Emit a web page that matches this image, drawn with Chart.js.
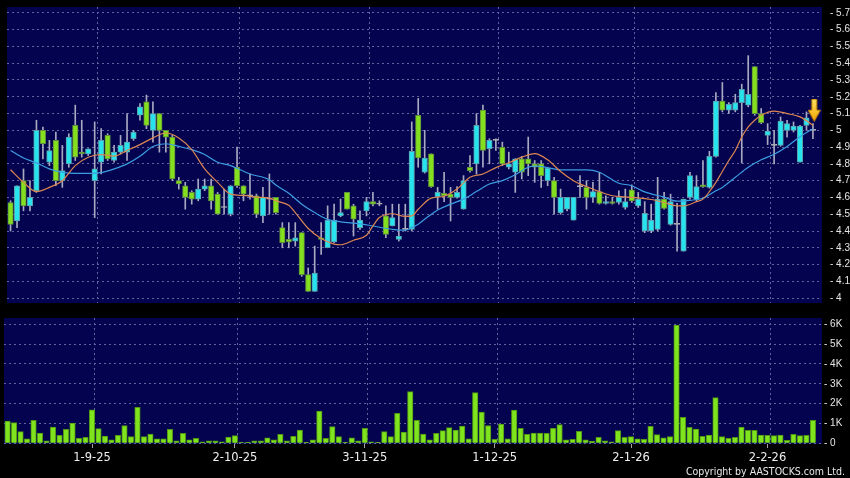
<!DOCTYPE html>
<html>
<head>
<meta charset="utf-8">
<script src="https://cdn.jsdelivr.net/npm/chart.js@4.4.0/dist/chart.umd.min.js"></script>
<style>
  html, body { margin: 0; padding: 0; background: #000; }
  #wrap { position: relative; width: 850px; height: 478px; background: #000; overflow: hidden; }
  #c1 { position: absolute; left: 0; top: 0; }
  #c2 { position: absolute; left: 0; top: 310px; }
  #copy { position: absolute; right: 5px; top: 465px; font: 10.5px 'DejaVu Sans Condensed', 'DejaVu Sans', sans-serif; line-height: 12px; color: #e8e8e8; white-space: nowrap; }
</style>
</head>
<body>
<div id="wrap">
  <canvas id="c1" width="850" height="310"></canvas>
  <canvas id="c2" width="850" height="168"></canvas>
  <div id="copy">Copyright by AASTOCKS.com Ltd.</div>
</div>
<script>
// 日线数据 (index 0 = 13-8-25)
var opens = [4.57,4.46,4.70,4.55,4.64,5.00,4.81,4.94,4.70,4.80,
  5.03,4.87,4.86,4.70,4.81,4.97,4.82,4.87,4.87,4.95,
  5.09,5.17,5.00,5.10,5.00,4.96,4.70,4.67,4.63,4.59,
  4.65,4.67,4.62,4.54,4.50,4.78,4.67,4.61,4.61,4.49,
  4.59,4.60,4.42,4.35,4.34,4.39,4.14,4.04,4.36,4.30,
  4.335,4.49,4.63,4.55,4.42,4.52,4.575,4.56,4.49,4.43,
  4.35,4.41,4.41,5.09,4.75,4.86,4.605,4.625,4.62,4.60,
  4.53,4.78,4.80,5.12,4.89,4.94,4.90,4.78,4.75,4.83,
  4.83,4.80,4.80,4.70,4.70,4.51,4.53,4.465,4.665,4.66,
  4.60,4.635,4.565,4.575,4.57,4.54,4.645,4.55,4.40,4.40,
  4.41,4.59,4.44,4.44,4.28,4.60,4.585,4.675,4.66,4.845,
  5.175,5.12,5.12,5.165,5.15,5.38,5.10,4.97,4.91,4.91,
  5.00,5.00,4.81,5.03,5.00];
var highs = [4.58,4.67,4.77,4.70,5.06,5.02,4.94,4.99,4.91,4.98,
  5.15,5.06,4.89,5.05,5.01,4.98,4.91,4.97,5.10,5.00,
  5.16,5.21,5.17,5.10,5.00,4.97,4.72,4.69,4.64,4.71,
  4.71,4.71,4.63,4.65,4.67,4.90,4.67,4.74,4.62,4.66,
  4.74,4.60,4.45,4.45,4.45,4.39,4.18,4.31,4.45,4.55,
  4.56,4.59,4.63,4.56,4.52,4.60,4.63,4.58,4.55,4.56,
  4.56,4.56,5.05,5.19,5.00,4.86,4.66,4.75,4.66,4.665,
  4.73,4.85,5.10,5.15,4.95,4.95,4.93,4.87,4.83,4.845,
  4.96,4.82,4.82,4.78,4.72,4.65,4.60,4.60,4.73,4.70,
  4.69,4.75,4.61,4.60,4.64,4.65,4.675,4.63,4.575,4.56,
  4.72,4.63,4.62,4.565,4.59,4.75,4.73,4.82,4.875,5.225,
  5.285,5.165,5.215,5.275,5.445,5.38,5.13,5.04,5.00,5.08,
  5.06,5.05,5.03,5.11,5.04];
var lows = [4.40,4.42,4.52,4.52,4.63,4.83,4.79,4.67,4.66,4.78,
  4.82,4.84,4.85,4.48,4.74,4.82,4.81,4.86,4.82,4.94,
  5.06,5.01,4.93,4.87,4.87,4.70,4.65,4.53,4.56,4.58,
  4.64,4.53,4.50,4.50,4.49,4.66,4.58,4.59,4.48,4.45,
  4.50,4.50,4.30,4.30,4.31,4.13,4.04,4.04,4.26,4.30,
  4.33,4.485,4.53,4.37,4.41,4.49,4.55,4.55,4.36,4.43,
  4.34,4.40,4.40,4.78,4.745,4.66,4.53,4.575,4.46,4.595,
  4.53,4.75,4.74,4.78,4.80,4.88,4.79,4.77,4.63,4.71,
  4.73,4.69,4.66,4.67,4.50,4.50,4.52,4.465,4.60,4.53,
  4.57,4.56,4.56,4.56,4.56,4.53,4.57,4.54,4.39,4.39,
  4.40,4.53,4.435,4.28,4.28,4.59,4.58,4.66,4.655,4.84,
  5.11,5.10,5.11,4.805,5.14,5.09,5.04,4.915,4.80,4.905,
  4.96,4.99,4.81,5.00,4.95];
var closes = [4.44,4.67,4.55,4.60,5.00,4.92,4.88,4.70,4.76,4.96,
  4.84,4.86,4.89,4.77,4.94,4.83,4.87,4.91,4.93,4.99,
  5.14,5.03,5.10,5.00,4.96,4.71,4.68,4.60,4.59,4.65,
  4.67,4.58,4.50,4.54,4.67,4.67,4.62,4.61,4.50,4.60,
  4.59,4.51,4.33,4.335,4.36,4.14,4.04,4.15,4.35,4.465,
  4.465,4.51,4.53,4.47,4.465,4.575,4.56,4.56,4.38,4.48,
  4.37,4.41,4.875,4.835,4.835,4.665,4.63,4.61,4.60,4.63,
  4.70,4.76,5.03,4.88,4.94,4.94,4.80,4.80,4.83,4.75,
  4.80,4.78,4.73,4.775,4.60,4.60,4.60,4.60,4.665,4.60,
  4.635,4.565,4.575,4.565,4.60,4.575,4.58,4.59,4.505,4.465,
  4.59,4.535,4.575,4.44,4.59,4.73,4.665,4.665,4.845,5.175,
  5.12,5.155,5.165,5.245,5.215,5.10,5.045,4.995,4.91,5.055,
  5.04,5.025,5.025,5.075,5.00];
var volumes = [1120,1040,590,230,1160,520,120,820,400,700,
  1020,250,300,1690,740,370,180,400,890,340,
  1810,340,460,230,230,700,130,500,180,250,
  80,120,120,70,320,390,60,60,130,130,
  280,180,450,120,350,670,50,170,1620,250,
  840,340,50,270,120,750,80,50,590,340,
  1510,570,2610,1160,470,170,500,640,790,670,
  870,220,2560,1570,890,200,970,230,1680,750,
  450,520,520,500,750,950,170,200,600,170,
  100,300,120,70,640,300,340,220,200,850,
  440,280,340,5960,1310,800,720,350,420,2310,
  340,250,300,820,650,650,420,400,390,420,
  150,450,390,400,1160];

// 10天 / 20天平均线
var ma10 = [[0,4.765],[2,4.69],[4,4.635],[6,4.66],[8,4.70],[10,4.79],[12,4.84],[14,4.855],[16,4.846],[18,4.88],
  [20,4.915],[22,4.955],[24,4.984],[26,4.955],[28,4.885],[30,4.77],[32,4.69],[34,4.62],[36,4.612],[38,4.602],
  [40,4.596],[41,4.58],[43,4.553],[44,4.51],[46,4.415],[48,4.355],[50,4.322],[51,4.318],[53,4.345],[55,4.375],
  [56,4.43],[57,4.48],[59,4.503],[61,4.487],[62,4.49],[63,4.53],[65,4.596],[67,4.607],[69,4.65],[71,4.72],
  [73,4.74],[75,4.778],[77,4.807],[79,4.84],[81,4.861],[83,4.825],[85,4.755],[87,4.70],[89,4.665],[91,4.635],
  [93,4.61],[95,4.603],[97,4.597],[99,4.588],[101,4.57],[103,4.55],[104,4.55],[106,4.575],[107,4.59],[108,4.635],
  [109,4.69],[110,4.755],[111,4.82],[112,4.88],[113,4.96],[114,5.02],[115,5.06],[116,5.09],[118,5.115],[120,5.10],
  [122,5.08],[124,5.03]];
var ma20 = [[0,4.88],[2,4.835],[4,4.806],[6,4.77],[8,4.75],[10,4.743],[12,4.743],[14,4.748],[16,4.77],[18,4.80],
  [20,4.845],[22,4.904],[24,4.92],[26,4.904],[28,4.885],[30,4.856],[32,4.81],[34,4.79],[37,4.74],[40,4.705],
  [41,4.674],[43,4.625],[45,4.56],[47,4.51],[49,4.47],[51,4.455],[54,4.443],[56,4.43],[59,4.41],[61,4.405],
  [62,4.42],[63,4.44],[64,4.47],[66,4.525],[68,4.56],[70,4.59],[72,4.635],[74,4.68],[76,4.70],[78,4.735],
  [80,4.78],[81,4.787],[83,4.778],[85,4.764],[89,4.764],[91,4.75],[93,4.705],[94,4.685],[96,4.67],[98,4.633],
  [101,4.602],[103,4.578],[105,4.583],[107,4.595],[109,4.64],[110,4.66],[112,4.72],[114,4.78],[116,4.825],[118,4.857],
  [120,4.904],[122,4.962],[124,5.01]];

// 轴标签
var xLabels = ['1-9-25','2-10-25','3-11-25','1-12-25','2-1-26','2-2-26'];
var labelIdx = [13,35,55,75,96,117];
var priceTicks = [4,4.1,4.2,4.3,4.4,4.5,4.6,4.7,4.8,4.9,5,5.1,5.2,5.3,5.4,5.5,5.6,5.7];
var volTicks = [0,1000,2000,3000,4000,5000,6000];
var lastMark = {x: 124.2, y: 5.12};

var NAVY = '#03034f';
var GRID = '#62629e';
var X_MIN = -0.55, X_MAX = 125.4;

var bgPlugin = {
  id: 'bg',
  beforeDraw: function(chart){
    var a = chart.chartArea, c = chart.ctx;
    c.save();
    c.fillStyle = NAVY;
    c.fillRect(a.left, a.top, a.right - a.left, a.bottom - a.top);
    c.restore();
  }
};

function candleColor(i){
  if(closes[i] > opens[i]) return '#26e3ee';
  if(closes[i] < opens[i]) return '#84e01e';
  return '#b4b4b4';
}
function candleBorder(i){
  if(closes[i] > opens[i]) return '#5d9ca8';
  if(closes[i] < opens[i]) return '#5f8c3c';
  return '#b4b4b4';
}

//黄色箭头
function makeArrow(){
  var cv = document.createElement('canvas');
  cv.width = 13; cv.height = 23;
  var c = cv.getContext('2d');
  var g = c.createLinearGradient(0, 0, 0, 23);
  g.addColorStop(0, '#ffe866');
  g.addColorStop(1, '#f2a400');
  c.fillStyle = g;
  c.strokeStyle = '#c88400';
  c.lineWidth = 1;
  c.beginPath();
  c.moveTo(4, 0.5); c.lineTo(9, 0.5); c.lineTo(9, 11.5);
  c.lineTo(12.5, 11.5); c.lineTo(6.5, 22.5); c.lineTo(0.5, 11.5); c.lineTo(4, 11.5);
  c.closePath();
  c.fill(); c.stroke();
  return cv;
}

function gridXAxis(){
  return {
    type: 'linear', min: X_MIN, max: X_MAX, offset: false,
    afterBuildTicks: function(s){ s.ticks = labelIdx.map(function(v){ return {value: v + 0.4}; }); },
    ticks: {display: false},
    grid: {color: GRID, drawTicks: false, offset: false},
    border: {display: false, dash: [2, 3]},
    afterFit: function(s){ s.height = 0; s.paddingLeft = 0; s.paddingRight = 0; }
  };
}

// 右侧y轴, 固定宽度且不留额外padding
function fitRight(s){
  s.width = 28;
  s.paddingTop = 0;
  s.paddingBottom = 0;
}

var idx = opens.map(function(v, i){ return i; });
var yFont = {family: "'Liberation Sans', Arial, sans-serif", size: 10};

// 价格图
new Chart(document.getElementById('c1'), {
  type: 'bar',
  data: {
    datasets: [{
      label: 'wick',
      data: idx.map(function(i){ return {x: i, y: [lows[i], highs[i]]}; }),
      backgroundColor: '#a9a9c2',
      barThickness: 1,
      grouped: false,
      order: 3
    }, {
      label: 'body',
      data: idx.map(function(i){ return {x: i, y: [opens[i], closes[i]]}; }),
      backgroundColor: idx.map(candleColor),
      borderColor: idx.map(candleBorder),
      borderWidth: 1,
      borderSkipped: false,
      minBarLength: 1,
      barThickness: 5.5,
      grouped: false,
      order: 2
    }, {
      type: 'line',
      label: 'MA10',
      data: ma10.map(function(p){ return {x: p[0], y: p[1]}; }),
      borderColor: '#dc8752',
      borderWidth: 1.2,
      pointRadius: 0,
      cubicInterpolationMode: 'monotone',
      order: 1
    }, {
      type: 'line',
      label: 'MA20',
      data: ma20.map(function(p){ return {x: p[0], y: p[1]}; }),
      borderColor: '#3d9de2',
      borderWidth: 1.2,
      pointRadius: 0,
      cubicInterpolationMode: 'monotone',
      order: 1
    }, {
      type: 'line',
      label: 'last',
      data: [lastMark],
      showLine: false,
      pointStyle: makeArrow(),
      pointRadius: 6,
      order: 0
    }]
  },
  options: {
    responsive: false,
    animation: false,
    devicePixelRatio: 1,
    layout: {padding: {left: 4, top: 5, right: 0, bottom: 4}},
    plugins: {legend: {display: false}, tooltip: {enabled: false}},
    scales: {
      x: gridXAxis(),
      y: {
        position: 'right', min: 3.971, max: 5.735,
        afterBuildTicks: function(s){ s.ticks = priceTicks.map(function(v){ return {value: v}; }); },
        ticks: {color: '#e6e6e6', font: yFont, padding: 8, autoSkip: false,
          callback: function(v){ return '- ' + v; }},
        grid: {color: GRID, drawTicks: false},
        border: {display: false, dash: [2, 3]},
        afterFit: fitRight
      }
    }
  },
  plugins: [bgPlugin]
});

// 成交量图
new Chart(document.getElementById('c2'), {
  type: 'bar',
  data: {
    datasets: [{
      label: 'vol',
      data: idx.map(function(i){ return {x: i, y: volumes[i]}; }),
      backgroundColor: '#7fe31e',
      borderColor: '#4f9414',
      borderWidth: 1,
      barThickness: 5.5,
      grouped: false
    }]
  },
  options: {
    responsive: false,
    animation: false,
    devicePixelRatio: 1,
    layout: {padding: {left: 4, top: 8, right: 0, bottom: 0}},
    plugins: {legend: {display: false}, tooltip: {enabled: false}},
    scales: {
      x: {
        type: 'linear', min: X_MIN, max: X_MAX, offset: false,
        afterBuildTicks: function(s){ s.ticks = labelIdx.map(function(v){ return {value: v}; }); },
        ticks: {color: '#eeeeee', font: {family: 'DejaVu Sans', size: 11.5}, padding: 3, maxRotation: 0, autoSkip: false,
          callback: function(v, k){ return xLabels[k]; }},
        grid: {display: true, drawOnChartArea: false, drawTicks: true, tickLength: 4, color: '#a0a0a0', offset: false},
        border: {display: false},
        afterFit: function(s){ s.height = 34; s.paddingLeft = 0; s.paddingRight = 0; }
      },
      xg: gridXAxis(),
      y: {
        position: 'right', min: -35, max: 6320,
        afterBuildTicks: function(s){ s.ticks = volTicks.map(function(v){ return {value: v}; }); },
        ticks: {color: '#e6e6e6', font: yFont, padding: 2, autoSkip: false,
          callback: function(v){ return '- ' + (v === 0 ? '0' : (v / 1000) + 'K'); }},
        grid: {color: GRID, drawTicks: false},
        border: {display: false, dash: [2, 3]},
        afterFit: fitRight
      }
    }
  },
  plugins: [bgPlugin]
});
</script>
</body>
</html>
